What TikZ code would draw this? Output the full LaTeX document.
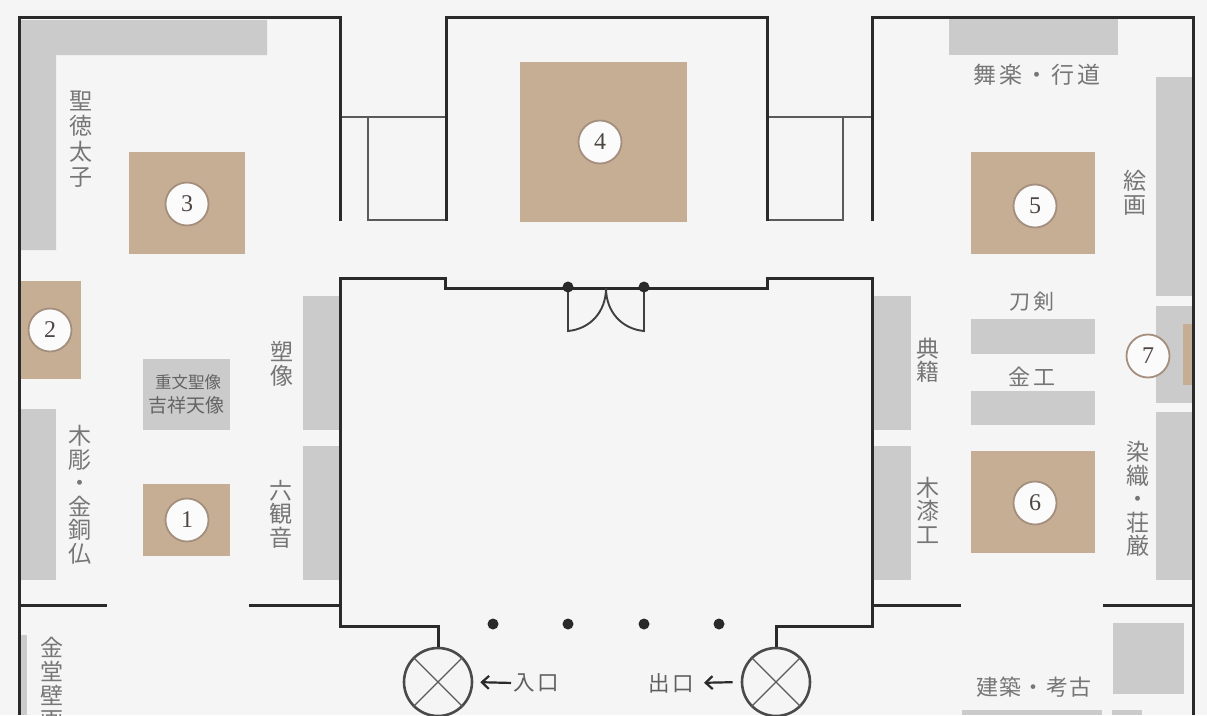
\documentclass[tikz,border=0pt]{standalone}
\usepackage{fontspec}
\setmainfont{Liberation Serif}
\newfontfamily\jp{Noto Sans CJK JP}
\newfontfamily\jpwide[LetterSpace=12]{Noto Sans CJK JP}
\newfontfamily\jpmid[LetterSpace=6]{Noto Sans CJK JP}
\usetikzlibrary{arrows.meta}
\definecolor{bgc}{HTML}{F5F5F5}
\definecolor{tan}{HTML}{C6AE94}
\definecolor{case}{HTML}{CBCBCB}
\definecolor{wallc}{HTML}{2A2A2A}
\definecolor{thinc}{HTML}{5A5A5A}
\definecolor{labelc}{HTML}{767676}
\definecolor{numc}{HTML}{4F4644}
\definecolor{ringc}{HTML}{A48F7E}
\tikzset{
  wall/.style={draw=wallc,line width=3pt,line cap=butt,line join=miter},
  thinwall/.style={draw=thinc,line width=1.5pt,line join=miter},
  caseblock/.style={fill=case,draw=none},
  tanblock/.style={fill=tan,draw=none},
  numcircle/.style={circle,draw=ringc,line width=1.8pt,fill=white!60!bgc,minimum size=43pt,inner sep=0pt,text=numc,font=\fontsize{24}{24}\selectfont},
  vlabel/.style={text=labelc,align=center,inner sep=0pt,font=\jp\fontsize{23}{25.5}\selectfont},
  vtight/.style={text=labelc,align=center,inner sep=0pt,font=\jp\fontsize{23}{23.5}\selectfont},
  hlabel/.style={text=labelc,inner sep=0pt,font=\jpwide\fontsize{23}{26}\selectfont},
  pillar/.style={circle,fill=wallc,minimum size=11pt,inner sep=0pt},
  lift/.style={circle,draw=wallc!85!white,line width=2.6pt,minimum size=68pt,inner sep=0pt},
  cross/.style={draw=thinc,line width=1.3pt},
  pointer/.style={draw=wallc,line width=2.2pt,-{Straight Barb[length=7pt,width=13pt]}}
}
\begin{document}
\begin{tikzpicture}[x=1pt,y=-1pt]
\useasboundingbox (0,0) rectangle (1207,715);
\clip (0,0) rectangle (1207,715);
\fill[bgc] (0,0) rectangle (1207,715);
% grey cases
\fill[caseblock] (21,20) -- (267,20) -- (267,55) -- (56,55) -- (56,250) -- (21,250) -- cycle;
\fill[caseblock] (303,296) rectangle (340,430);
\fill[caseblock] (303,446) rectangle (340,580);
\fill[caseblock] (21,409) rectangle (56,580);
\fill[caseblock] (143,359) rectangle (230,430);
\fill[caseblock] (21,635) rectangle (27,715);
\fill[caseblock] (949,18) rectangle (1118,55);
\fill[caseblock] (1156,77) rectangle (1192,296);
\fill[caseblock] (1156,306) rectangle (1192,403);
\fill[caseblock] (1156,412) rectangle (1192,580);
\fill[caseblock] (873,296) rectangle (911,430);
\fill[caseblock] (873,446) rectangle (911,580);
\fill[caseblock] (971,319) rectangle (1095,354);
\fill[caseblock] (971,391) rectangle (1095,425);
\fill[caseblock] (1113,623) rectangle (1184,694);
\fill[caseblock] (962,710) rectangle (1102,715);
\fill[caseblock] (1112,710) rectangle (1142,715);
% tan plinths
\fill[tanblock] (129,152) rectangle (245,254);
\fill[tanblock] (21,281) rectangle (81,379);
\fill[tanblock] (143,484) rectangle (230,556);
\fill[tanblock] (520,62) rectangle (687,222);
\fill[tanblock] (971,152) rectangle (1095,254);
\fill[tanblock] (971,451) rectangle (1095,553);
\fill[tanblock] (1183,324) rectangle (1192,385);
% thin partitions
\draw[thinwall] (340,117) -- (445,117);
\draw[thinwall] (368,117) -- (368,220) -- (445,220);
\draw[thinwall] (767,117) -- (872,117);
\draw[thinwall] (843,117) -- (843,220) -- (767,220);
% walls
\draw[wall] (340,221) -- (340,17) -- (19,17) -- (19,715);
\draw[wall] (446,221) -- (446,17) -- (767,17) -- (767,221);
\draw[wall] (872,221) -- (872,17) -- (1193,17) -- (1193,715);
\draw[wall] (19,605) -- (107,605);
\draw[wall] (249,605) -- (340,605);
\draw[wall] (872,605) -- (961,605);
\draw[wall] (1103,605) -- (1193,605);
% lifts
\node[lift] (liftin) at (438,682) {};
\node[lift] (liftout) at (776,682) {};
\draw[cross] (liftin.45) -- (liftin.225);
\draw[cross] (liftin.135) -- (liftin.315);
\draw[cross] (liftout.45) -- (liftout.225);
\draw[cross] (liftout.135) -- (liftout.315);
\draw[wall] (liftin.north) -- (438,626) -- (340,626) -- (340,278) -- (445,278) -- (445,288) -- (767,288) -- (767,278) -- (872,278) -- (872,626) -- (776,626) -- (liftout.north);
% door
\coordinate (doormid) at (606,288);
\coordinate (doorlc) at (568,287);
\coordinate (doorrc) at (644,287);
\draw[draw=wallc!90!white,line width=1.9pt,line join=miter] (doorlc) -- (568,331) .. controls (590,329) and (606,312) .. (doormid);
\draw[draw=wallc!90!white,line width=1.9pt,line join=miter] (doorrc) -- (644,331) .. controls (622,329) and (606,312) .. (doormid);
\node[pillar] (doorl) at (doorlc) {};
\node[pillar] (doorr) at (doorrc) {};
% pillars
\node[pillar] (p1) at (493,624) {};
\node[pillar] (p2) at (568,624) {};
\node[pillar] (p3) at (644,624) {};
\node[pillar] (p4) at (719,624) {};
% numbers
\node[numcircle] (n1) at (187,520) {1};
\node[numcircle] (n2) at (50,330) {2};
\node[numcircle] (n3) at (187,204) {3};
\node[numcircle] (n4) at (600,142) {4};
\node[numcircle] (n5) at (1035,206) {5};
\node[numcircle] (n6) at (1035,503) {6};
\node[numcircle] (n7) at (1148,356) {7};
% labels
\node[vlabel] (shotoku) at (81,139) {聖\\徳\\太\\子};
\node[vtight] (sozo) at (282,364) {塑\\像};
\node[vtight] (mokucho) at (80,495) {木\\彫\\・\\金\\銅\\仏};
\node[vtight] (rokukannon) at (281,514) {六\\観\\音};
\node[vtight,font=\jp\fontsize{23}{24}\selectfont,anchor=north] (kondo) at (52,637) {金\\堂\\壁\\画};
\node[vtight] (tenseki) at (928,360) {典\\籍};
\node[vtight] (mokushitsu) at (928,510) {木\\漆\\工};
\node[vtight] (senshoku) at (1138,499) {染\\織\\・\\荘\\厳};
\node[vtight] (kaiga) at (1135,193) {絵\\画};
\node[hlabel] (bugaku) at (1037,75) {舞楽・行道};
\node[hlabel,font=\jpwide\fontsize{21}{24}\selectfont] (token) at (1032,302) {刀剣};
\node[hlabel,font=\jpwide\fontsize{22}{24}\selectfont] (kinko) at (1032,377) {金工};
\node[hlabel,font=\jpmid\fontsize{22}{26}\selectfont] (kenchiku) at (1034,687) {建築・考古};
\node[text=labelc!85!black,inner sep=0pt,font=\jp\fontsize{16.5}{18}\selectfont] (jubun) at (188,382) {重文聖像};
\node[text=labelc!85!black,inner sep=0pt,font=\jp\fontsize{19}{22}\selectfont] (kichijo) at (186,405) {吉祥天像};
\node[text=wallc!75!white,inner sep=0pt,font=\jpwide\fontsize{21.5}{24}\selectfont] (entry) at (536,683) {入口};
\node[text=wallc!75!white,inner sep=0pt,font=\jpwide\fontsize{21.5}{24}\selectfont] (exit) at (671,683) {出口};
\draw[pointer,shorten <=2pt,shorten >=7pt] (entry.west) -- (liftin.east);
\draw[pointer,shorten <=8pt,shorten >=10pt] (liftout.west) -- (exit.east);
\end{tikzpicture}
\end{document}
